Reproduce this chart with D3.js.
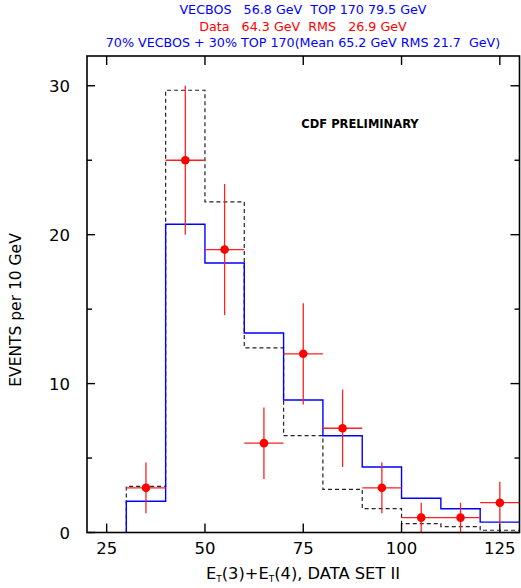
<!DOCTYPE html>
<html>
<head>
<meta charset="utf-8">
<script src="https://cdn.jsdelivr.net/npm/d3@7"></script>
<style>
  html, body { margin: 0; padding: 0; background: #fff; }
  svg { display: block; }
  text { font-family: "DejaVu Sans", sans-serif; }
</style>
</head>
<body>
<div id="chart"></div>
<script>
// ---- data ----
const binEdges = [30, 40, 50, 60, 70, 80, 90, 100, 110, 120, 130];
const dataCenters = [35, 45, 55, 65, 75, 85, 95, 105, 115, 125];
const dataValues = [3, 25, 19, 6, 12, 7, 3, 1, 1, 2];
const dataErrUp = [1.7, 5.0, 4.4, 2.4, 3.4, 2.6, 1.7, 1.0, 1.0, 1.4];
const dataErrDown = [1.7, 5.0, 4.4, 2.4, 3.4, 2.6, 1.7, 1.0, 1.0, 1.4];
const mixValues = [2.1, 20.7, 18.1, 13.4, 8.9, 6.5, 4.4, 2.3, 1.6, 0.7];   // 70% VECBOS + 30% TOP 170 (blue)
const dashedValues = [3.1, 29.7, 22.2, 12.4, 6.5, 2.9, 1.6, 0.6, 0.4, 0.15]; // dashed black
const xTicks = [25, 50, 75, 100, 125];
const yTicksMajor = [0, 10, 20, 30];
const yTicksMinor = [5, 15, 25];
const titleLines = [
  { text: "VECBOS   56.8 GeV  TOP 170 79.5 GeV", color: "#0000ff" },
  { text: "Data   64.3 GeV  RMS   26.9 GeV", color: "#ff0000" },
  { text: "70% VECBOS + 30% TOP 170(Mean 65.2 GeV RMS 21.7  GeV)", color: "#0000ff" }
];

// ---- layout ----
const W = 521, H = 588;
const m = { left: 87, right: 1.5, top: 56, bottom: 55.5 };
const svg = d3.select("#chart").append("svg").attr("width", W).attr("height", H);

const x = d3.scaleLinear().domain([20, 130]).range([m.left, W - m.right]);
const y = d3.scaleLinear().domain([0, 32]).range([H - m.bottom, m.top]);

// titles
const titleY = [14, 31, 47];
titleLines.forEach((t, i) => {
  svg.append("text")
    .attr("x", 303).attr("y", titleY[i])
    .attr("text-anchor", "middle")
    .attr("font-size", 12.7)
    .attr("fill", t.color)
    .style("white-space", "pre")
    .attr("xml:space", "preserve")
    .text(t.text);
});

// step path helper
function stepPoints(vals) {
  const pts = [[binEdges[0], 0]];
  vals.forEach((v, i) => { pts.push([binEdges[i], v]); pts.push([binEdges[i + 1], v]); });
  return pts;
}
const line = d3.line().x(d => x(d[0])).y(d => y(d[1]));

// dashed histogram
svg.append("path")
  .attr("d", line(stepPoints(dashedValues)))
  .attr("fill", "none").attr("stroke", "#222").attr("stroke-width", 1.2)
  .attr("stroke-dasharray", "4,3");

// blue histogram
svg.append("path")
  .attr("d", line(stepPoints(mixValues)))
  .attr("fill", "none").attr("stroke", "#0000ff").attr("stroke-width", 1.4);

// data points
const g = svg.append("g");
dataCenters.forEach((c, i) => {
  const v = dataValues[i];
  g.append("line")
    .attr("x1", x(c - 5)).attr("x2", x(c + 5)).attr("y1", y(v)).attr("y2", y(v))
    .attr("stroke", "#ff2020").attr("stroke-width", 1.3);
  g.append("line")
    .attr("x1", x(c)).attr("x2", x(c))
    .attr("y1", y(v + dataErrUp[i])).attr("y2", y(Math.max(0, v - dataErrDown[i])))
    .attr("stroke", "#ff2020").attr("stroke-width", 1.3);
  g.append("circle").attr("cx", x(c)).attr("cy", y(v)).attr("r", 4.3).attr("fill", "#ff0000");
});

// frame
const x0 = x.range()[0], x1 = x.range()[1], y0 = y.range()[0], y1 = y.range()[1];
svg.append("rect")
  .attr("x", x0).attr("y", y1).attr("width", x1 - x0).attr("height", y0 - y1)
  .attr("fill", "none").attr("stroke", "#000").attr("stroke-width", 1.6);

// ticks
const tk = svg.append("g").attr("stroke", "#000").attr("stroke-width", 1.4);
xTicks.forEach(t => {
  tk.append("line").attr("x1", x(t)).attr("x2", x(t)).attr("y1", y0).attr("y2", y0 - 9);
  tk.append("line").attr("x1", x(t)).attr("x2", x(t)).attr("y1", y1).attr("y2", y1 + 9);
});
yTicksMajor.forEach(t => {
  tk.append("line").attr("x1", x0).attr("x2", x0 + 8).attr("y1", y(t)).attr("y2", y(t));
  tk.append("line").attr("x1", x1).attr("x2", x1 - 9).attr("y1", y(t)).attr("y2", y(t));
});
yTicksMinor.forEach(t => {
  tk.append("line").attr("x1", x0).attr("x2", x0 + 5).attr("y1", y(t)).attr("y2", y(t));
  tk.append("line").attr("x1", x1).attr("x2", x1 - 5).attr("y1", y(t)).attr("y2", y(t));
});

// tick labels
xTicks.forEach(t => {
  svg.append("text").attr("x", x(t)).attr("y", 554)
    .attr("text-anchor", "middle").attr("font-size", 16.5).text(t);
});
yTicksMajor.forEach(t => {
  svg.append("text").attr("x", 70).attr("y", y(t) + 6)
    .attr("text-anchor", "end").attr("font-size", 16.5).text(t);
});

// axis titles
const xl = svg.append("text").attr("x", 303).attr("y", 579)
  .attr("text-anchor", "middle").attr("font-size", 16.3);
xl.append("tspan").text("E");
xl.append("tspan").attr("font-size", 9).attr("dy", 3).text("T");
xl.append("tspan").attr("dy", -3).text("(3)+E");
xl.append("tspan").attr("font-size", 9).attr("dy", 3).text("T");
xl.append("tspan").attr("dy", -3).text("(4), DATA SET II");

svg.append("text")
  .attr("transform", "translate(21,310) rotate(-90)")
  .attr("text-anchor", "middle").attr("font-size", 15.5)
  .text("EVENTS per 10 GeV");

// annotation
svg.append("text").attr("x", 360).attr("y", 128)
  .attr("text-anchor", "middle").attr("font-size", 11.5).attr("font-weight", "bold")
  .text("CDF PRELIMINARY");
</script>
</body>
</html>
